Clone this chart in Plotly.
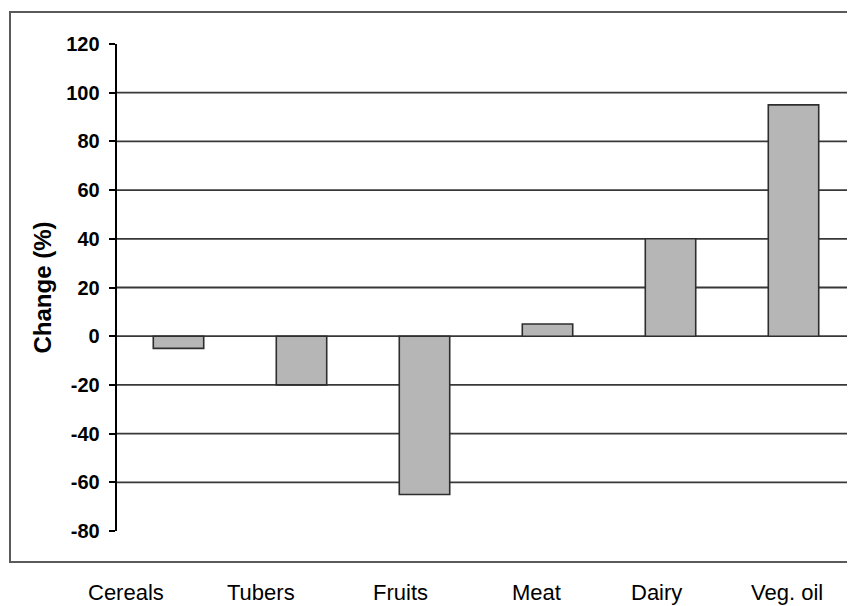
import plotly.graph_objects as go

categories = ["Cereals", "Tubers", "Fruits", "Meat", "Dairy", "Veg. oil"]
change_pct = [-5, -20, -65, 5, 40, 95]
y_ticks = [-80, -60, -40, -20, 0, 20, 40, 60, 80, 100, 120]
grid_values = [-60, -40, -20, 0, 20, 40, 60, 80, 100]

FONT = "Arial, Liberation Sans, sans-serif"
# the page adds an 8px body margin, so the figure is 8px smaller and
# every page position below is shifted by that offset
OFF = 8
W, H = 855 - OFF, 606 - OFF
L, R, T, B = 117 - OFF, 0, 44 - OFF, 606 - 531
pw, ph = W - L - R, H - T - B

def px_x(p):
    return (p - OFF - L) / pw

def px_y(p):
    return 1 - (p - OFF - T) / ph

fig = go.Figure()
fig.add_trace(go.Bar(
    x=categories, y=change_pct, width=0.41,
    marker=dict(color="#b6b6b6", line=dict(color="#2e2e2e", width=1.6)),
    hoverinfo="x+y", showlegend=False,
))

shapes = []
for g in grid_values:
    shapes.append(dict(type="line", xref="paper", yref="y",
                       x0=0, x1=1, y0=g, y1=g,
                       line=dict(color="#383838", width=1.8), layer="below"))
# outer frame
shapes.append(dict(type="rect", xref="paper", yref="paper",
                   x0=px_x(10), x1=px_x(870), y0=px_y(562), y1=px_y(12),
                   line=dict(color="#5a5a5a", width=2), layer="below"))

# category labels sit below the frame, placed as in the original figure
label_centers_px = [126, 261, 400, 536, 656, 787]
annotations = []
for c, lx in zip(categories, label_centers_px):
    annotations.append(dict(text=c, xref="paper", yref="paper",
                            x=px_x(lx), y=px_y(592),
                            xanchor="center", yanchor="middle", showarrow=False,
                            font=dict(size=22, family=FONT, color="black")))

tick_text = ["<b>%d</b>&nbsp;" % v for v in y_ticks]

fig.update_layout(
    width=W, height=H,
    margin=dict(l=L, r=R, t=T, b=B),
    paper_bgcolor="white", plot_bgcolor="white",
    font=dict(family=FONT, color="black"),
    shapes=shapes, annotations=annotations,
    xaxis=dict(type="category", range=[-0.5, 5.5],
               showticklabels=False, showgrid=False, zeroline=False,
               showline=False, ticks=""),
    yaxis=dict(range=[-80, 120], tickvals=y_ticks, ticktext=tick_text,
               showgrid=False,
               zeroline=False, showline=True, linecolor="black", linewidth=1.6,
               ticks="outside", ticklen=6, tickcolor="black", tickwidth=1.6,
               tickfont=dict(size=20, family=FONT, color="black"),
               title=dict(text="<b>Change (%)</b>", standoff=8,
                          font=dict(size=24, family=FONT, color="black"))),
)
fig.write_html("out.html")
